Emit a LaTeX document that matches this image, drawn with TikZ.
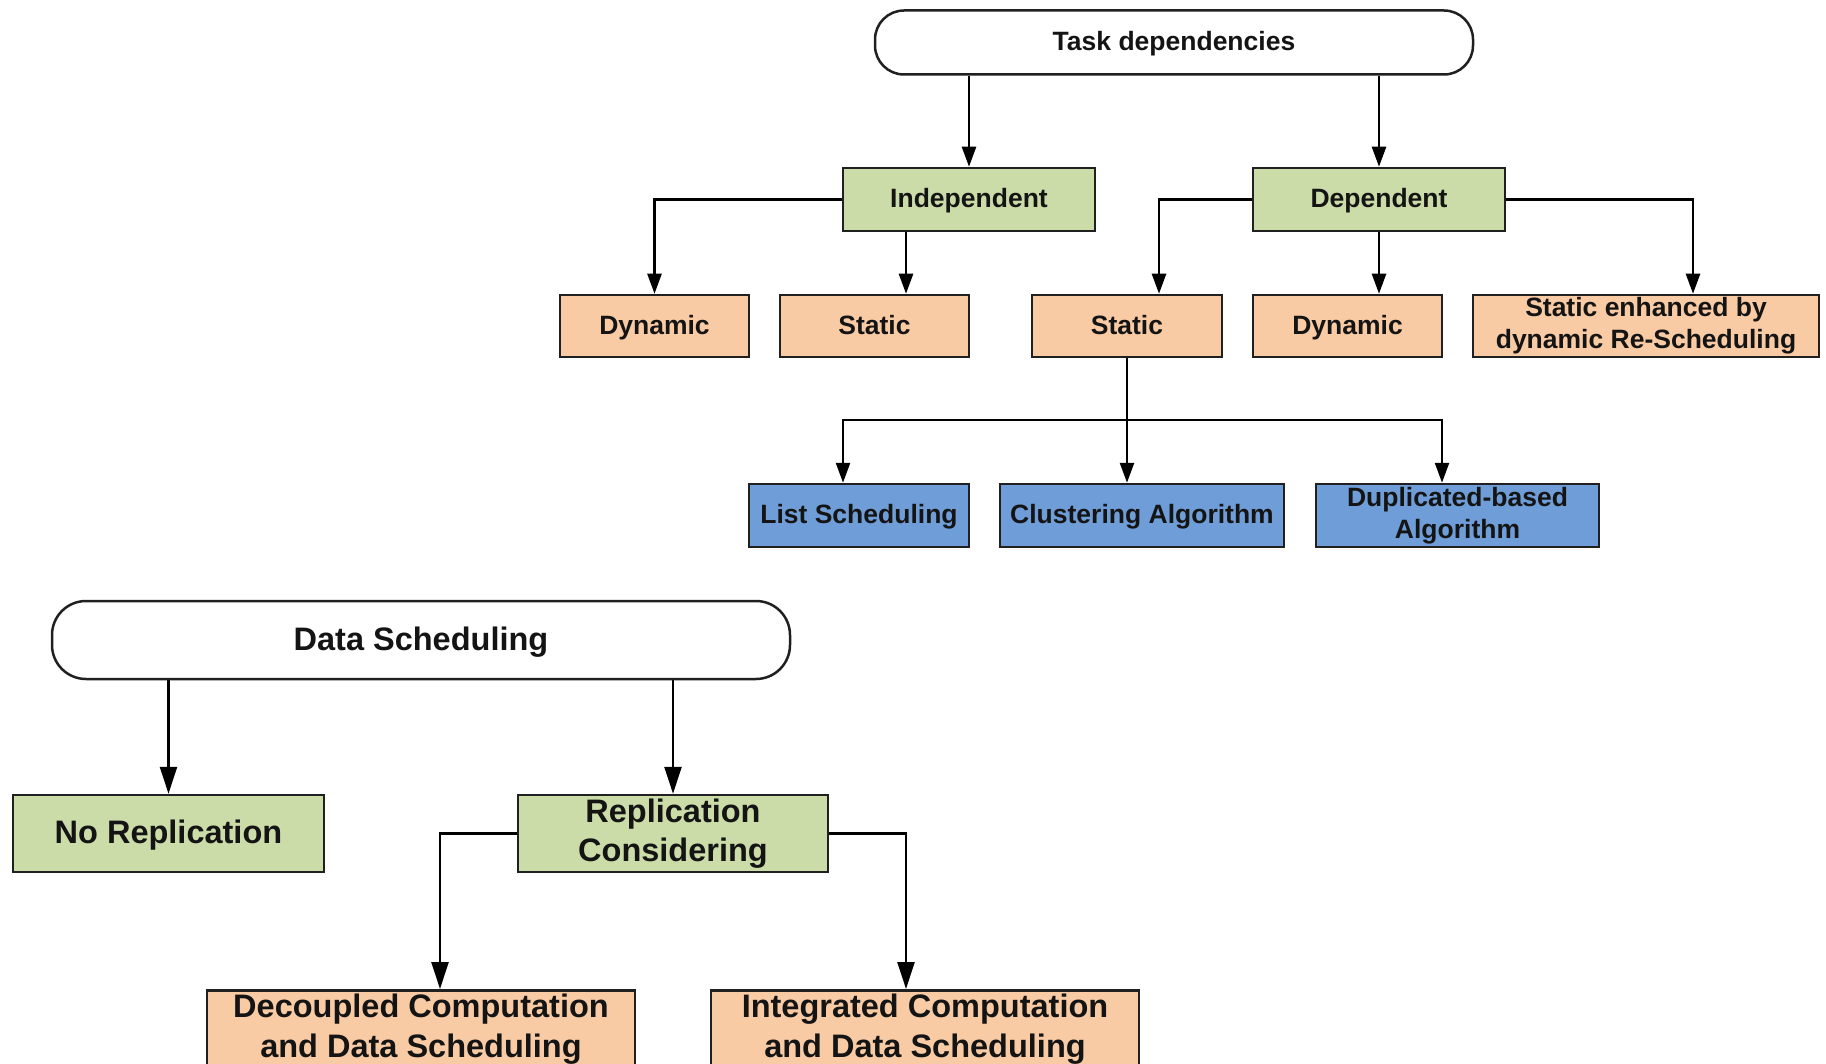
\documentclass[tikz,border=0pt]{standalone}
\usepackage{fontspec}
\setmainfont{Liberation Sans}
\usetikzlibrary{arrows.meta}
\definecolor{boxgreen}{RGB}{204,220,168}
\definecolor{boxorange}{RGB}{249,203,165}
\definecolor{boxblue}{RGB}{111,157,216}
\definecolor{edgecol}{RGB}{32,32,32}
\definecolor{txtcol}{RGB}{20,20,20}
\begin{document}
\begin{tikzpicture}[x=1pt,y=-1pt,
  basebox/.style={draw=edgecol, line width=2.5pt, inner sep=0pt, align=center, text=txtcol},
  tfont/.style={font=\bfseries\fontsize{26.5}{32}\selectfont},
  bfont/.style={font=\bfseries\fontsize{32.5}{39.5}\selectfont},
  tone/.style={basebox, tfont, text height=22.3pt, text depth=5.6pt},
  ttwo/.style={basebox, tfont},
  bone/.style={basebox, bfont, text height=27.7pt, text depth=6.8pt},
  btwo/.style={basebox, bfont},
  tarr/.style={line width=2.5pt, draw=black, -{Triangle[length=20pt,width=14pt]}},
  barr/.style={line width=2.5pt, draw=black, -{Triangle[length=27pt,width=17pt]}},
]
\useasboundingbox (0,0) rectangle (1826,1064);
\fill[white] (0,0) rectangle (1826,1064);

% ---------- Task dependencies tree ----------
\node[tone, rounded corners=29pt, fill=white, minimum width=598pt, minimum height=64pt] (task) at (1174,42.5) {Task dependencies};
\node[tone, fill=boxgreen, minimum width=252pt, minimum height=63pt] (indep) at (969,199.5) {Independent};
\node[tone, fill=boxgreen, minimum width=252pt, minimum height=63pt] (dep) at (1379,199.5) {Dependent};

\node[tone, fill=boxorange, minimum width=189pt, minimum height=62pt] (dynI) at (654.5,326) {Dynamic};
\node[tone, fill=boxorange, minimum width=189pt, minimum height=62pt] (staI) at (874.5,326) {Static};
\node[tone, fill=boxorange, minimum width=190pt, minimum height=62pt] (staD) at (1127,326) {Static};
\node[tone, fill=boxorange, minimum width=189pt, minimum height=62pt] (dynD) at (1347.5,326) {Dynamic};
\node[ttwo, fill=boxorange, minimum width=346pt, minimum height=62pt] (enh) at (1646,326) {Static enhanced by\\dynamic Re-Scheduling};

\node[tone, fill=boxblue, minimum width=220pt, minimum height=63pt] (list) at (859,515.5) {List Scheduling};
\node[tone, fill=boxblue, minimum width=284pt, minimum height=63pt] (clus) at (1142,515.5) {Clustering Algorithm};
\node[ttwo, fill=boxblue, minimum width=283pt, minimum height=63pt] (dup) at (1457.5,515.5) {Duplicated-based\\Algorithm};

% connectors
\draw[tarr] (indep.north |- task.south) -- (indep.north);
\draw[tarr] (dep.north |- task.south) -- (dep.north);

\draw[tarr] (indep.west) -| (dynI.north);
\coordinate (sIa) at ([xshift=31.5pt]staI.north);
\draw[tarr] (indep.south -| sIa) -- (sIa);

\coordinate (sDa) at ([xshift=32pt]staD.north);
\draw[tarr] (dep.west) -| (sDa);
\draw[tarr] (dep.south) -- (dep.south |- dynD.north);
\coordinate (eA) at ([xshift=47pt]enh.north);
\draw[tarr] (dep.east) -| (eA);

\coordinate (busy) at (0,420);
\coordinate (lA) at ([xshift=-16pt]list.north);
\coordinate (dA) at ([xshift=-15.5pt]dup.north);
\draw[tarr] (staD.south) -- (staD.south |- clus.north);
\draw[tarr] (staD.south |- busy) -| (lA);
\draw[tarr] (staD.south |- busy) -| (dA);

% ---------- Data Scheduling tree ----------
\node[bone, rounded corners=34pt, fill=white, minimum width=738pt, minimum height=78pt] (data) at (421,640) {Data Scheduling};
\node[bone, fill=boxgreen, minimum width=311pt, minimum height=77pt] (norep) at (168.5,833.5) {No Replication};
\node[btwo, fill=boxgreen, minimum width=310pt, minimum height=77pt] (rep) at (673,833.5) {Replication\\Considering};

\node[btwo, fill=boxorange, minimum width=428pt, inner ysep=4pt, anchor=north] (dec) at (421,989) {Decoupled Computation\\and Data Scheduling\rule[-30pt]{0pt}{30pt}};
\node[btwo, fill=boxorange, minimum width=428pt, inner ysep=4pt, anchor=north] (int) at (925,989) {Integrated Computation\\and Data Scheduling\rule[-30pt]{0pt}{30pt}};

\draw[barr] (norep.north |- data.south) -- (norep.north);
\draw[barr] (rep.north |- data.south) -- (rep.north);
\coordinate (decA) at ([xshift=19pt]dec.north);
\coordinate (intA) at ([xshift=-19pt]int.north);
\draw[barr] (rep.west) -| (decA);
\draw[barr] (rep.east) -| (intA);
\end{tikzpicture}
\end{document}
